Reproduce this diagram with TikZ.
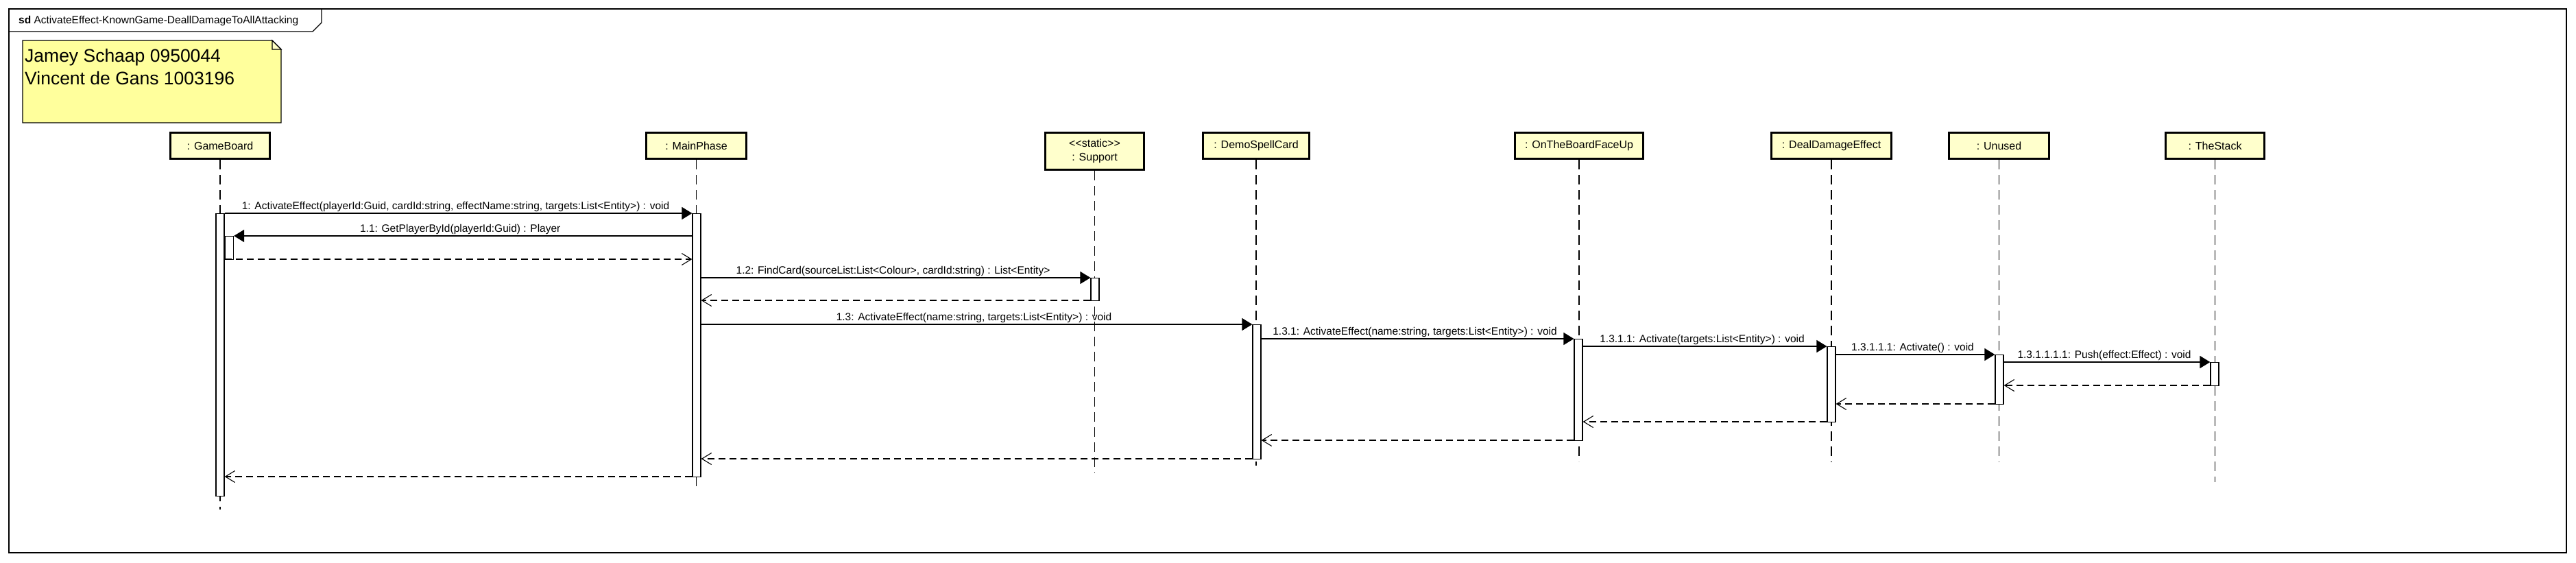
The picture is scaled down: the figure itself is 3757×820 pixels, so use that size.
\documentclass[tikz,border=0pt]{standalone}
\usepackage{fontspec}
\setmainfont{Liberation Sans}
\usetikzlibrary{arrows.meta}
\definecolor{notefill}{HTML}{FFFF9C}
\definecolor{boxfill}{HTML}{FFFFCC}
\begin{document}
\begin{tikzpicture}[x=1pt,y=-1pt,
  lbox/.style={draw, line width=3pt, fill=boxfill, inner sep=0pt, minimum height=38pt,
               font=\fontsize{16}{20}\selectfont, align=center},
  act/.style={draw, fill=white, line width=1.2pt, minimum width=12pt, inner sep=0pt, anchor=north},
  lifeline/.style={line width=1.3pt, dash pattern=on 14pt off 8pt},
  msg/.style={line width=1.4pt, -{Triangle[length=15pt,width=18pt]}},
  ret/.style={line width=1.4pt, dash pattern=on 10pt off 6pt, -{Straight Barb[length=14pt,width=17pt,line width=1.1pt]}},
  lbl/.style={anchor=base, yshift=6pt, xshift=-4pt, inner sep=0pt, font=\fontsize{15.5}{18}\selectfont}
]
\useasboundingbox (0,0) rectangle (3757,820);
\fill[white] (0,0) rectangle (3757,820);

% frame
\draw[line width=1.6pt] (13,13) rectangle (3743,806);
\draw[line width=1.3pt] (13,46) -- (456,46) -- (469,33) -- (469,13);
\node[anchor=west, inner sep=0pt, font=\fontsize{15.5}{18}\selectfont] (title) at (27,30)
  {\textbf{sd} ActivateEffect-KnownGame-DeallDamageToAllAttacking};

% note
\draw[line width=1.1pt, fill=notefill] (33,59) -- (397,59) -- (410,72) -- (410,179) -- (33,179) -- cycle;
\draw[line width=1.1pt, fill=notefill!60!white] (397,59) -- (397,72) -- (410,72) -- cycle;
\node[anchor=base west, inner sep=0pt, font=\fontsize{26.5}{33}\selectfont] (note1) at (36,90) {Jamey Schaap 0950044};
\node[anchor=base west, inner sep=0pt, font=\fontsize{26.5}{33}\selectfont] (note2) at (36,123) {Vincent de Gans 1003196};

% lifeline heads
\node[lbox, minimum width=145pt] (gb) at (321,212.5) {: GameBoard};
\node[lbox, minimum width=146pt] (mp) at (1015.5,212.5) {: MainPhase};
\node[lbox, minimum width=144pt, minimum height=54pt] (sp) at (1596.5,220.5) {<{}<static>{}>\\: Support};
\node[lbox, minimum width=155pt] (ds) at (1832,212.5) {: DemoSpellCard};
\node[lbox, minimum width=187pt] (ot) at (2303,212.5) {: OnTheBoardFaceUp};
\node[lbox, minimum width=175pt] (dd) at (2671,212.5) {: DealDamageEffect};
\node[lbox, minimum width=146pt] (un) at (2915.5,212.5) {: Unused};
\node[lbox, minimum width=144pt] (ts) at (3230.5,212.5) {: TheStack};

% lifelines
\draw[lifeline] (gb.south) -- (gb.south |- 0,743);
\draw[lifeline] (mp.south) -- (mp.south |- 0,716);
\draw[lifeline] (sp.south) -- (sp.south |- 0,690);
\draw[lifeline] (ds.south) -- (ds.south |- 0,679);
\draw[lifeline] (ot.south) -- (ot.south |- 0,673);
\draw[lifeline] (dd.south) -- (dd.south |- 0,674);
\draw[lifeline] (un.south) -- (un.south |- 0,674);
\draw[lifeline] (ts.south) -- (ts.south |- 0,703);

% activations
\node[act, minimum height=412pt] (gba) at (321,311) {};
\node[act, minimum height=34pt] (gbn) at (334.5,344) {};
\node[act, minimum height=384pt] (mpa) at (1016,311) {};
\node[act, minimum height=33pt] (spa) at (1597,405) {};
\node[act, minimum height=196pt] (dsa) at (1833,473) {};
\node[act, minimum height=148pt] (ota) at (2302,494) {};
\node[act, minimum height=110pt] (dda) at (2671,505) {};
\node[act, minimum height=72pt] (una) at (2916,517) {};
\node[act, minimum height=34pt] (tsa) at (3230,528) {};

% messages
\draw[msg] (gba.east |- 0,311) -- node[lbl] {1: ActivateEffect(playerId:Guid, cardId:string, effectName:string, targets:List<Entity>) : void} (mpa.west |- 0,311);
\draw[msg] (mpa.west |- 0,344) -- node[lbl] {1.1: GetPlayerById(playerId:Guid) : Player} (gbn.east |- 0,344);
\draw[ret] (gba.east |- 0,378) -- (mpa.west |- 0,378);
\draw[msg] (mpa.east |- 0,405) -- node[lbl] {1.2: FindCard(sourceList:List<Colour>, cardId:string) : List<Entity>} (spa.west |- 0,405);
\draw[ret] (spa.west |- 0,438) -- (mpa.east |- 0,438);
\draw[msg] (mpa.east |- 0,473) -- node[lbl] {1.3: ActivateEffect(name:string, targets:List<Entity>) : void} (dsa.west |- 0,473);
\draw[msg] (dsa.east |- 0,494) -- node[lbl] {1.3.1: ActivateEffect(name:string, targets:List<Entity>) : void} (ota.west |- 0,494);
\draw[msg] (ota.east |- 0,505) -- node[lbl] {1.3.1.1: Activate(targets:List<Entity>) : void} (dda.west |- 0,505);
\draw[msg] (dda.east |- 0,517) -- node[lbl] {1.3.1.1.1: Activate() : void} (una.west |- 0,517);
\draw[msg] (una.east |- 0,528) -- node[lbl] {1.3.1.1.1.1: Push(effect:Effect) : void} (tsa.west |- 0,528);
\draw[ret] (tsa.west |- 0,562) -- (una.east |- 0,562);
\draw[ret] (una.west |- 0,589) -- (dda.east |- 0,589);
\draw[ret] (dda.west |- 0,615) -- (ota.east |- 0,615);
\draw[ret] (ota.west |- 0,642) -- (dsa.east |- 0,642);
\draw[ret] (dsa.west |- 0,669) -- (mpa.east |- 0,669);
\draw[ret] (mpa.west |- 0,695) -- (gba.east |- 0,695);
\end{tikzpicture}
\end{document}
